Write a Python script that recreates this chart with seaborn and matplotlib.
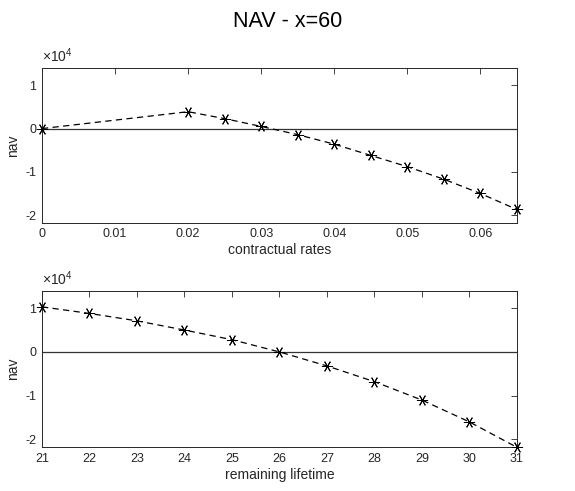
import numpy as np
import pandas as pd
import seaborn as sns
import matplotlib
import matplotlib.pyplot as plt
from matplotlib.ticker import FuncFormatter

# data
rates = [0.0, 0.02, 0.025, 0.03, 0.035, 0.04, 0.045, 0.05, 0.055, 0.06, 0.065]
nav_rates = [0, 3900, 2300, 500, -1400, -3600, -6200, -8800, -11700, -15000, -18700]

lifetime = [21, 22, 23, 24, 25, 26, 27, 28, 29, 30, 31]
nav_lifetime = [10300, 8800, 7100, 5000, 2800, 0, -3200, -6800, -11000, -16000, -21800]

rate_ticks = [0, 0.01, 0.02, 0.03, 0.04, 0.05, 0.06]
life_ticks = list(range(21, 32))

sns.set_style('white')
plt.rcParams['font.family'] = ['Liberation Sans', 'DejaVu Sans']
plt.rcParams['axes.unicode_minus'] = False
plt.rcParams['mathtext.fontset'] = 'custom'
plt.rcParams['mathtext.rm'] = 'Liberation Sans'

edge = '#262626'

fig = plt.figure(figsize=(5.75, 4.91), dpi=100)
ax1 = fig.add_axes([0.073, 0.546, 0.826, 0.3155])
ax2 = fig.add_axes([0.073, 0.089, 0.826, 0.319])

fig.text(0.5, 0.957, 'NAV - x=60', ha='center', va='center', fontsize=15.5, color='k')


def draw(ax, xs, ys, xlabel, xticks, xlim, xfmt):
    df = pd.DataFrame({'x': xs, 'y': ys})
    ax.axhline(0, color='#333333', lw=0.9, zorder=1)
    sns.lineplot(data=df, x='x', y='y', ax=ax, color='k', linestyle=(0, (5, 3.5)), lw=0.9,
                 marker=(6, 2, 90), markersize=8, markeredgewidth=0.7,
                 markeredgecolor='k', zorder=3, clip_on=False)
    ax.set_xlim(*xlim)
    ax.set_ylim(-21800, 14000)
    ax.set_xticks(xticks)
    ax.xaxis.set_major_formatter(FuncFormatter(xfmt))
    ax.set_yticks([-20000, -10000, 0, 10000])
    ax.yaxis.set_major_formatter(FuncFormatter(lambda v, p: f'{v / 1e4:g}'))
    ax.text(0.0, 1.02, r'$\times10^{4}$', transform=ax.transAxes, ha='left', va='bottom',
            fontsize=10, color=edge)
    ax.set_xlabel(xlabel, fontsize=10, color=edge, labelpad=2)
    ax.set_ylabel('nav', fontsize=10, color=edge, labelpad=4)
    ax.tick_params(direction='in', top=True, right=True, length=4, width=0.6,
                   labelsize=9, colors=edge, pad=4)
    for s in ax.spines.values():
        s.set_color(edge)
        s.set_linewidth(0.7)
        s.set_visible(True)


draw(ax1, rates, nav_rates, 'contractual rates', rate_ticks, (0, 0.065),
     lambda v, p: '0' if abs(v) < 1e-9 else f'{v:g}')
draw(ax2, lifetime, nav_lifetime, 'remaining lifetime', life_ticks, (21, 31),
     lambda v, p: f'{v:g}')

fig.savefig('out.png', dpi=100)
